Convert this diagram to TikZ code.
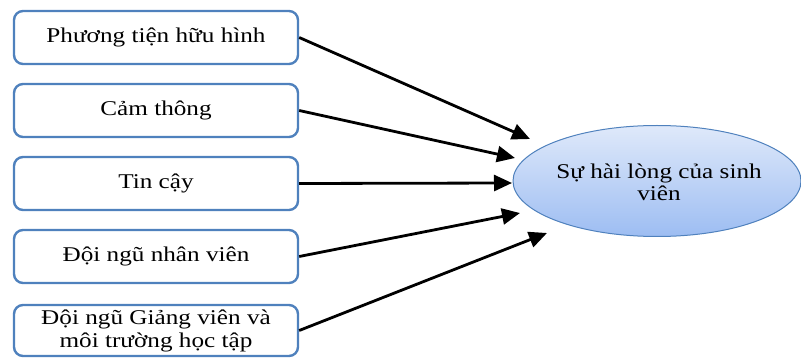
\documentclass[tikz,border=0pt]{standalone}
\usepackage{fontspec}
\setmainfont{Liberation Serif}[FakeStretch=1.2]
\usetikzlibrary{arrows.meta}
\definecolor{boxblue}{HTML}{4F81BD}
\definecolor{elltop}{HTML}{DFE9FA}
\definecolor{ellbot}{HTML}{9DBDF2}
\begin{document}
\begin{tikzpicture}[x=1pt,y=1pt,
  factor/.style={draw=boxblue, line width=2.4pt, rounded corners=9pt, fill=white,
    minimum width=284pt, minimum height=53pt, align=center, inner sep=0pt,
    font=\fontsize{21}{23}\selectfont},
  outcome/.style={draw=boxblue, line width=1pt, top color=elltop, bottom color=ellbot},
  link/.style={line width=2.8pt, -{Triangle[length=18pt,width=16pt]}}]
\useasboundingbox (0,0) rectangle (801,359);
\node[factor] (b1) at (156,321.5) {Phương tiện hữu hình};
\node[factor] (b2) at (156,248.5) {Cảm thông};
\node[factor] (b3) at (156,175.5) {Tin cậy};
\node[factor] (b4) at (156,102.5) {Đội ngũ nhân viên};
\node[factor, minimum height=51pt] (b5) at (156,28.5) {Đội ngũ Giảng viên và\\môi trường học tập};
\path[outcome] (657,178) ellipse [x radius=144, y radius=55.5];
\node[align=center, font=\fontsize{21}{22}\selectfont] (s) at (659,177) {Sự hài lòng của sinh\\viên};
\coordinate (e1) at (530,220);
\coordinate (e2) at (515,201);
\coordinate (e3) at (512,176);
\coordinate (e4) at (520,146);
\coordinate (e5) at (547,126);
\draw[link] (b1.east) -- (e1);
\draw[link] (b2.east) -- (e2);
\draw[link] (b3.east) -- (e3);
\draw[link] (b4.east) -- (e4);
\draw[link] (b5.east) -- (e5);
\end{tikzpicture}
\end{document}
